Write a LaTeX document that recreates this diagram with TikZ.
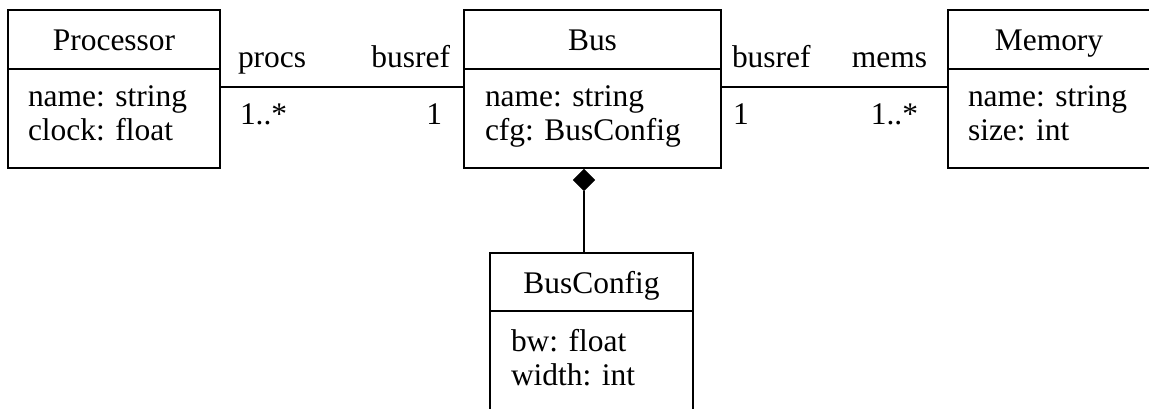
\documentclass[tikz,border=0pt]{standalone}
\usepackage{fontspec}
\setmainfont{Liberation Serif}
\usetikzlibrary{shapes.geometric}
\begin{document}
\begin{tikzpicture}[x=0.75pt,y=-0.75pt,
  every node/.style={inner sep=0pt,outer sep=0pt},
  txt/.style={font=\fontsize{23.6pt}{25.5pt}\selectfont},
  classbox/.style={draw,line width=1.3pt,anchor=north west,rectangle},
  divider/.style={line width=1.3pt},
  assoc/.style={line width=1.3pt},
  comp/.style={diamond,fill=black,draw=black,minimum width=16pt,minimum height=16pt,inner sep=0pt}]
\useasboundingbox (0,0) rectangle (1149,409);
\clip (0,0) rectangle (1149,409);
% boxes
\node[classbox,minimum width=159pt,minimum height=118.5pt] (proc) at (8,10) {};
\node[classbox,minimum width=192.75pt,minimum height=118.5pt] (bus) at (464,10) {};
\node[classbox,minimum width=151.5pt,minimum height=118.5pt] (mem) at (948,10) {};
\node[classbox,minimum width=152.25pt,minimum height=131pt] (bc) at (490,253) {};
% dividers
\draw[divider] (proc.west |- 0,69) -- (proc.east |- 0,69);
\draw[divider] (bus.west |- 0,69) -- (bus.east |- 0,69);
\draw[divider] (mem.west |- 0,69) -- (mem.east |- 0,69);
\draw[divider] (bc.west |- 0,311) -- (bc.east |- 0,311);
% texts
\node[txt,anchor=base] (pt) at (114,51) {Processor};
\node[txt,anchor=base west] (pa1) at (28,107) {name: string};
\node[txt,anchor=base west] (pa2) at (28,141) {clock: float};
\node[txt,anchor=base] (bt) at (592.5,51) {Bus};
\node[txt,anchor=base west] (ba1) at (485,107) {name: string};
\node[txt,anchor=base west] (ba2) at (485,141) {cfg: BusConfig};
\node[txt,anchor=base] (mt) at (1049,51) {Memory};
\node[txt,anchor=base west] (ma1) at (968,107) {name: string};
\node[txt,anchor=base west] (ma2) at (968,141) {size: int};
\node[txt,anchor=base] (ct) at (591.5,294) {BusConfig};
\node[txt,anchor=base west] (ca1) at (511,352) {bw: float};
\node[txt,anchor=base west] (ca2) at (511,386) {width: int};
% associations
\draw[assoc] (proc.east |- 0,87) -- (bus.west |- 0,87);
\draw[assoc] (bus.east |- 0,87) -- (mem.west |- 0,87);
\node[txt,anchor=base west] (l1) at (238,68) {procs};
\node[txt,anchor=base east] (l2) at (450,68) {busref};
\node[txt,anchor=base west] (l3) at (240,125) {1..*};
\node[txt,anchor=base east] (l4) at (442,125) {1};
\node[txt,anchor=base west] (l5) at (732,68) {busref};
\node[txt,anchor=base east] (l6) at (927,68) {mems};
\node[txt,anchor=base west] (l7) at (733,125) {1};
\node[txt,anchor=base east] (l8) at (918,125) {1..*};
% composition
\node[comp] (dia) at (584,180) {};
\draw[assoc] (dia.south) -- (dia.south |- bc.north);
\end{tikzpicture}
\end{document}
